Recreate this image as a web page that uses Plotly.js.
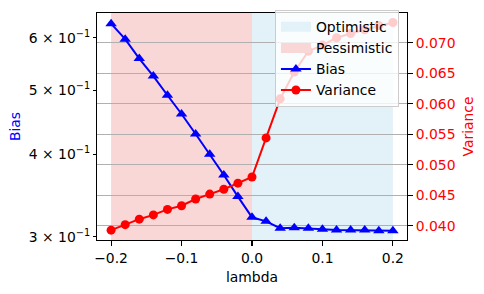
<!DOCTYPE html>
<html>
<head>
<meta charset="utf-8">
<script src="https://cdn.plot.ly/plotly-3.0.1.min.js"></script>
<style>
  html, body { margin: 0; padding: 0; background: #fff; }
  #chart { width: 484px; height: 294px; }
</style>
</head>
<body>
<div id="chart"></div>
<script>
// ---- data ----
const lambda = [-0.2, -0.18, -0.16, -0.14, -0.12, -0.1, -0.08, -0.06, -0.04, -0.02,
                0.0, 0.02, 0.04, 0.06, 0.08, 0.1, 0.12, 0.14, 0.16, 0.18, 0.2];
const bias = [0.630, 0.597, 0.558, 0.525, 0.491, 0.460, 0.429, 0.400, 0.372, 0.345,
              0.321, 0.3165, 0.309, 0.3095, 0.309, 0.308, 0.307, 0.307, 0.307, 0.3062, 0.3062];
const variance = [0.0393, 0.0402, 0.0411, 0.0418, 0.0427, 0.0433, 0.0444, 0.0452, 0.0460, 0.0470,
                  0.0480, 0.0544, 0.0608, 0.0652, 0.0686, 0.0696, 0.0708, 0.0715, 0.0721, 0.0728, 0.0733];
const optimisticRange = [0.0, 0.2];
const pessimisticRange = [-0.2, 0.0];
const xTicks = [-0.2, -0.1, 0.0, 0.1, 0.2];
const biasTicks = [0.3, 0.4, 0.5, 0.6];
const biasTickLabels = ['3 × 10<sup>−1</sup>', '4 × 10<sup>−1</sup>', '5 × 10<sup>−1</sup>', '6 × 10<sup>−1</sup>'];
const varTicks = [0.040, 0.045, 0.050, 0.055, 0.060, 0.065, 0.070];

const FONT = 'DejaVu Sans, sans-serif';
const FS = 13.9;
const OPT_COLOR = '#e3f2f8';
const PES_COLOR = '#f9d7d7';

const traces = [
  // legend-only entries for the shaded spans
  {
    x: [null], y: [null], name: 'Optimistic', type: 'scatter', mode: 'lines',
    line: {color: OPT_COLOR, width: 10}, hoverinfo: 'skip', legendrank: 1
  },
  {
    x: [null], y: [null], name: 'Pessimistic', type: 'scatter', mode: 'lines',
    line: {color: PES_COLOR, width: 10}, hoverinfo: 'skip', legendrank: 2
  },
  {
    x: lambda, y: bias, name: 'Bias', type: 'scatter', mode: 'lines+markers',
    xaxis: 'x', yaxis: 'y',
    line: {color: '#0000ff', width: 2},
    marker: {color: '#0000ff', symbol: 'triangle-up', size: 10},
    legendrank: 3
  },
  {
    x: lambda, y: variance, name: 'Variance', type: 'scatter', mode: 'lines+markers',
    xaxis: 'x', yaxis: 'y2',
    line: {color: '#ff0000', width: 2},
    marker: {color: '#ff0000', symbol: 'circle', size: 9},
    legendrank: 4
  }
];

const layout = {
  width: 484, height: 294,
  margin: {l: 97, r: 77, t: 10, b: 54},
  paper_bgcolor: '#fff', plot_bgcolor: '#fff',
  font: {family: FONT, size: FS, color: '#000'},
  showlegend: true,
  legend: {
    x: 0.974, xanchor: 'right', y: 1.012, yanchor: 'top',
    bgcolor: 'rgba(255,255,255,0.8)', bordercolor: '#cccccc', borderwidth: 1,
    font: {family: FONT, size: FS, color: '#000'},
    tracegroupgap: 0, itemwidth: 30
  },
  xaxis: {
    range: [-0.22, 0.22], tickvals: xTicks, tickformat: '.1f',
    showgrid: false, zeroline: false,
    showline: true, linecolor: '#000', linewidth: 1.1, mirror: true,
    ticks: 'outside', ticklen: 5, tickwidth: 1.1, tickcolor: '#000',
    tickfont: {family: FONT, size: FS, color: '#000'},
    title: {text: 'lambda', font: {family: FONT, size: FS, color: '#000'}, standoff: 7}
  },
  yaxis: {
    type: 'log', range: [-0.5278, -0.1845],
    tickvals: biasTicks, ticktext: biasTickLabels,
    showgrid: false, zeroline: false,
    showline: true, linecolor: '#000', linewidth: 1.1, mirror: true,
    ticks: 'outside', ticklen: 3, tickwidth: 1, tickcolor: '#000',
    tickfont: {family: FONT, size: FS, color: '#000'},
    title: {text: 'Bias', font: {family: FONT, size: FS, color: '#0000ff'}, standoff: 4}
  },
  yaxis2: {
    overlaying: 'y', side: 'right', anchor: 'x',
    range: [0.03769, 0.07485], tickvals: varTicks, tickformat: '.3f',
    showgrid: true, gridcolor: '#b0b0b0', gridwidth: 1.1, zeroline: false,
    showline: false,
    ticks: 'outside', ticklen: 5, tickwidth: 1.1, tickcolor: '#000',
    tickfont: {family: FONT, size: FS, color: '#ff0000'},
    title: {text: 'Variance', font: {family: FONT, size: FS, color: '#ff0000'}, standoff: 8}
  },
  shapes: [
    {
      type: 'rect', xref: 'x', yref: 'paper',
      x0: optimisticRange[0], x1: optimisticRange[1], y0: 0, y1: 1,
      fillcolor: OPT_COLOR, line: {width: 0}, layer: 'below'
    },
    {
      type: 'rect', xref: 'x', yref: 'paper',
      x0: pessimisticRange[0], x1: pessimisticRange[1], y0: 0, y1: 1,
      fillcolor: PES_COLOR, line: {width: 0}, layer: 'below'
    }
  ]
};

Plotly.newPlot('chart', traces, layout, {displayModeBar: false, staticPlot: true});
</script>
</body>
</html>
